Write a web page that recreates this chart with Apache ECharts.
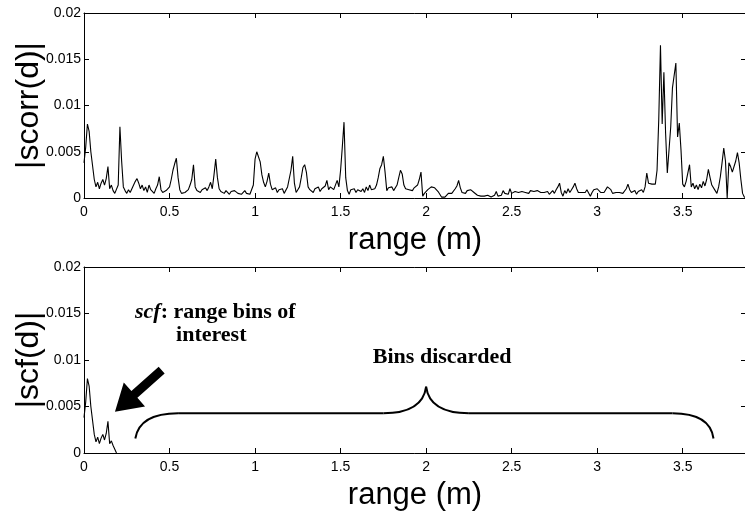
<!DOCTYPE html>
<html>
<head>
<meta charset="utf-8">
<script src="https://cdn.jsdelivr.net/npm/echarts@6/dist/echarts.min.js"></script>
<style>html,body{margin:0;padding:0;background:#fff}#c{width:745px;height:515px}</style>
</head>
<body>
<div id="c"></div>
<script>
// ---- data ----
const BIN_STEP = 0.01;          // range bin spacing (m)
const VALUE_UNIT = 1e-4;        // values below are given in units of 1e-4
// |scorr(d)| per range bin, starting at 0 m (10 bins per row = 0.1 m)
const scorr = [
  38, 55, 80, 72, 50, 48, 20, 12, 17, 10,   // 0.0
  16, 20, 14, 21, 34, 10, 14, 8, 5, 6,      // 0.1
  14, 77, 40, 12, 8, 5, 9, 6, 10, 14,       // 0.2
  18, 21, 16, 10, 14, 8, 12, 6, 14, 9,      // 0.3
  11, 5, 10, 14, 23, 9, 6, 5, 8, 6,         // 0.4
  12, 20, 30, 37, 43, 22, 9, 5, 4, 6,       // 0.5
  4, 9, 14, 20, 36, 12, 8, 10, 6, 9,        // 0.6
  7, 11, 8, 12, 17, 10, 25, 42, 22, 10,     // 0.7
  7, 9, 5, 8, 6, 4, 7, 5, 8, 6,             // 0.8
  5, 7, 4, 6, 8, 5, 7, 4, 6, 14,            // 0.9
  42, 50, 48, 39, 25, 17, 12, 18, 27, 15,   // 1.0
  9, 7, 11, 6, 9, 8, 10, 5, 7, 12,          // 1.1
  14, 30, 45, 16, 6, 9, 12, 22, 33, 36,     // 1.2
  28, 12, 9, 11, 6, 10, 8, 12, 7, 10,       // 1.3
  8, 13, 19, 9, 12, 14, 9, 11, 19, 12,      // 1.4
  30, 55, 82, 22, 8, 4, 9, 7, 10, 6,        // 1.5
  9, 11, 7, 10, 6, 12, 8, 14, 9, 7,         // 1.6
  10, 14, 22, 32, 36, 45, 28, 8, 11, 9,     // 1.7
  12, 8, 10, 14, 22, 30, 26, 14, 10, 12,    // 1.8
  9, 10, 8, 11, 9, 14, 20, 28, 2, 5,        // 1.9
  7, 9, 11, 12, 12, 11, 9, 7, 4, 1,         // 2.0
  0, 1, 2, 5, 7, 5, 6, 10, 13, 19,          // 2.1
  11, 6, 7, 5, 8, 6, 9, 10, 6, 4,           // 2.2
  3, 4, 2, 3, 2, 4, 3, 2, 1, 2,             // 2.3
  3, 7, 2, 4, 3, 8, 5, 3, 4, 10,            // 2.4
  5, 4, 7, 5, 6, 4, 7, 8, 6, 7,             // 2.5
  5, 8, 6, 7, 5, 8, 7, 6, 4, 6,             // 2.6
  5, 7, 4, 6, 8, 5, 9, 12, 16, 6,           // 2.7
  2, 8, 5, 10, 6, 9, 12, 16, 10, 6,         // 2.8
  5, 6, 4, 6, 9, 7, 2, 6, 9, 11,            // 2.9
  10, 8, 6, 5, 6, 8, 12, 14, 9, 5,          // 3.0
  4, 6, 5, 6, 4, 5, 7, 10, 15, 9,           // 3.1
  6, 5, 8, 4, 7, 5, 9, 6, 12, 27,           // 3.2
  16, 14, 15, 16, 15, 30, 85, 165, 80, 136, // 3.3
  70, 27, 28, 77, 119, 120, 146, 66, 81, 52,// 3.4
  15, 12, 18, 19, 36, 12, 16, 10, 14, 9,    // 3.5
  15, 11, 18, 13, 20, 31, 22, 14, 12, 8,    // 3.6
  5, 12, 23, 38, 54, 40, 0, 38, 34, 28,     // 3.7
  30, 40, 49, 38, 20, 5, 1, 0               // 3.8
];
// |scf(d)|: the range bins of interest only
const scf = [
  38, 55, 80, 72, 50, 48, 20, 12, 17, 10,
  16, 20, 14, 21, 34, 10, 13, 8, 4, 0
];
const RANGE_MAX = 3.87;
const xTickLabels = ['0', '0.5', '1', '1.5', '2', '2.5', '3', '3.5'];
const yTickLabels = ['0', '0.005', '0.01', '0.015', '0.02'];

// annotation anchors (data coordinates of the lower panel)
const arrowTail = [0.454, 0.0089];
const arrowTip = [0.181, 0.00444];
const braceY = 0.00427, braceTipY = 0.00713, braceEndY = 0.00156;
const braceLeft = 0.30, braceMid = 2.0, braceRight = 3.68;
const noteLine1 = [0.298, 0.01516];
const noteLine2 = [0.538, 0.01269];
const noteBins = [2.094, 0.01032];

// ---- chart ----
const toPts = arr => arr.map((v, i) => [i * BIN_STEP, v * VALUE_UNIT]);
const chart = echarts.init(document.getElementById('c'), null, {renderer: 'canvas'});
const SANS = '"Liberation Sans", Arial, sans-serif';
const SERIF = '"Liberation Serif", "Times New Roman", serif';

function mkX(grid, pos, main) {
  return {
    type: 'value', gridIndex: grid, position: pos, min: 0, max: RANGE_MAX, interval: 0.5,
    axisLine: {show: true, onZero: false, lineStyle: {color: '#000', width: 1}},
    axisTick: {show: true, inside: true, length: 5, lineStyle: {color: '#000'}},
    axisLabel: {show: main, color: '#000', fontSize: 14, fontFamily: SANS, margin: 7,
      showMaxLabel: false,
      formatter: v => { const i = Math.round(v / 0.5); return Math.abs(v - i * 0.5) < 1e-9 && xTickLabels[i] !== undefined ? xTickLabels[i] : ''; }},
    splitLine: {show: false},
    name: main ? 'range (m)' : '', nameLocation: 'middle', nameGap: 27, nameMoveOverlap: false,
    nameTextStyle: {color: '#000', fontSize: 31, fontFamily: SANS}
  };
}
function mkY(grid, pos, name) {
  return {
    type: 'value', gridIndex: grid, position: pos, min: 0, max: 0.02, interval: 0.005,
    axisLine: {show: true, onZero: false, lineStyle: {color: '#000', width: 1}},
    axisTick: {show: true, inside: true, length: 5, lineStyle: {color: '#000'}},
    axisLabel: {show: !!name, color: '#000', fontSize: 14, fontFamily: SANS, margin: 3,
      formatter: v => { const i = Math.round(v / 0.005); return yTickLabels[i] !== undefined ? yTickLabels[i] : ''; }},
    splitLine: {show: false},
    name: name || '', nameLocation: 'middle', nameGap: 39, nameRotate: 90, nameMoveOverlap: false,
    nameTextStyle: {color: '#000', fontSize: 32, fontFamily: SANS}
  };
}

const lineStyle = {color: '#000', width: 1.1};
chart.setOption({
  animation: false,
  backgroundColor: '#fff',
  grid: [
    {left: 84, right: -1, top: 13, height: 185, containLabel: false, outerBoundsMode: 'none'},
    {left: 84, right: -1, top: 267, height: 186, containLabel: false, outerBoundsMode: 'none'}
  ],
  xAxis: [mkX(0, 'bottom', true), mkX(0, 'top', false), mkX(1, 'bottom', true), mkX(1, 'top', false)],
  yAxis: [mkY(0, 'left', '|scorr(d)|'), mkY(0, 'right'), mkY(1, 'left', '|scf(d)|'), mkY(1, 'right')],
  series: [
    {type: 'line', xAxisIndex: 0, yAxisIndex: 0, data: toPts(scorr), symbol: 'none',
      lineStyle, itemStyle: {color: '#000'}},
    {type: 'line', xAxisIndex: 2, yAxisIndex: 2, data: toPts(scf), symbol: 'none',
      lineStyle, itemStyle: {color: '#000'}}
  ]
});

// ---- annotations in the lower panel ----
const P = p => chart.convertToPixel({xAxisIndex: 2, yAxisIndex: 2}, p);
function arrowPoints(tail, tip, headLen, headW, shaftW) {
  const dx = tip[0] - tail[0], dy = tip[1] - tail[1];
  const L = Math.hypot(dx, dy), ux = dx / L, uy = dy / L, nx = -uy, ny = ux;
  const bx = tip[0] - ux * headLen, by = tip[1] - uy * headLen;
  const o = (x, y, k) => [x + nx * k, y + ny * k];
  return [o(tail[0], tail[1], shaftW / 2), o(bx, by, shaftW / 2), o(bx, by, headW / 2), tip,
          o(bx, by, -headW / 2), o(bx, by, -shaftW / 2), o(tail[0], tail[1], -shaftW / 2)];
}
const bStyle = {stroke: '#000', lineWidth: 2, fill: null};
const q = (a, c, b) => ({type: 'bezierCurve', silent: true,
  shape: {x1: a[0], y1: a[1], cpx1: c[0], cpy1: c[1], x2: b[0], y2: b[1]}, style: bStyle});
const ln = (a, b) => ({type: 'line', silent: true,
  shape: {x1: a[0], y1: a[1], x2: b[0], y2: b[1]}, style: bStyle});

const g = [
  {type: 'polygon', silent: true, shape: {points: arrowPoints(P(arrowTail), P(arrowTip), 26, 32, 9)},
    style: {fill: '#000'}},
  q(P([braceLeft, braceEndY]), P([braceLeft + 0.025, braceY]), P([0.55, braceY])),
  ln(P([0.55, braceY]), P([1.75, braceY])),
  q(P([1.75, braceY]), P([braceMid - 0.02, braceY]), P([braceMid, braceTipY])),
  q(P([braceMid, braceTipY]), P([braceMid + 0.02, braceY]), P([2.25, braceY])),
  ln(P([2.25, braceY]), P([3.44, braceY])),
  q(P([3.44, braceY]), P([braceRight - 0.02, braceY]), P([braceRight, braceEndY])),
  {type: 'text', silent: true, x: P(noteLine1)[0], y: P(noteLine1)[1],
    style: {text: '{i|scf}: range bins of', font: 'bold 22px ' + SERIF, fill: '#000',
      verticalAlign: 'middle', align: 'left',
      rich: {i: {fontStyle: 'italic', fontWeight: 'bold', fontSize: 22, fontFamily: SERIF, fill: '#000'}}}},
  {type: 'text', silent: true, x: P(noteLine2)[0], y: P(noteLine2)[1],
    style: {text: 'interest', font: 'bold 22px ' + SERIF, fill: '#000', verticalAlign: 'middle', align: 'left'}},
  {type: 'text', silent: true, x: P(noteBins)[0], y: P(noteBins)[1],
    style: {text: 'Bins discarded', font: 'bold 22px ' + SERIF, fill: '#000', verticalAlign: 'middle', align: 'center'}}
];
chart.setOption({graphic: g});
</script>
</body>
</html>
